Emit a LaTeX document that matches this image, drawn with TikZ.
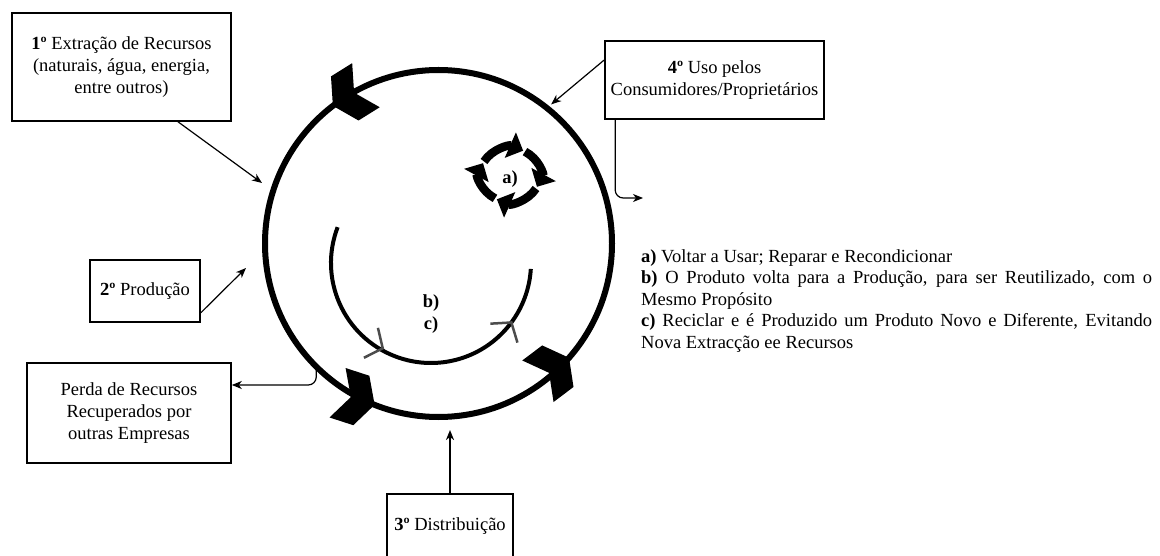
\documentclass[tikz,border=0pt]{standalone}
\usepackage{fontspec}
\setmainfont{Liberation Serif}
\usetikzlibrary{arrows.meta}
\usetikzlibrary{positioning}
\usetikzlibrary{calc}

\begin{document}
\begin{tikzpicture}[x=1pt, y=1pt, every node/.style={font=\fontsize{18.5}{21.6}\selectfont},
    box/.style={draw, line width=1.6pt, inner sep=0pt, align=center},
    conn/.style={line width=1.2pt, -{Stealth[length=10pt, width=8pt, inset=3pt]}},
    ring/.style={line width=6pt},
    innerarc/.style={line width=4pt},
    cyc/.style={line width=8.5pt, -{Triangle[length=14pt, width=27pt]}},
    chev/.pic={\fill (0,0) -- (-14,26) -- (-39,26) -- (-25,0) -- (-39,-26) -- (-14,-26) -- cycle;},
    barbmark/.pic={\draw[black!70, line width=2.5pt] (-13,16.5) -- (0,0) -- (-13,-16.5);}]
        \useasboundingbox (0,0) rectangle (1160,555);
        % Define the radius of the ring and of the inner arc
        \def\radius{173.5}
        \def\rin{100}
        \coordinate (c) at (438.5,311.5);
        \coordinate (ci) at (431,292);

        % Draw the ring and the inner arc
        \draw[ring] (c) circle[radius=\radius];
        \draw[innerarc] ($(ci)+(159:\rin)$) arc[start angle=159, end angle=356.6, radius=\rin];

        % Big heads on the ring
        \path ($(c)+(127.5:\radius)$) pic[rotate=212] {chev};
        \path ($(c)+(248.4:\radius)$) pic[rotate=342] {chev};
        \path ($(c)+(318.8:\radius)$) pic[rotate=37] {chev};

        % Grey heads on the inner arc
        \path ($(ci)+(240.5:98)$) pic[rotate=-25] {barbmark};
        \path ($(ci)+(323.5:\rin)$) pic[rotate=55] {barbmark};

        % Small cycle of a)
        \coordinate (ic) at (510,380);
        \foreach \s in {150,60,-30,-120}
        {
          \draw[cyc] ($(ic)+(\s:30 and 27)$) arc[start angle=\s, delta angle=-86, x radius=30, y radius=27];
        }

        \node (la) at (510,376) {\textbf{a)}};
        \node (lb) at (431,252) {\textbf{b)}};
        \node (lc) at (431,230) {\textbf{c)}};

        % Draw the boxes
        \node[box, minimum width=219pt, minimum height=108pt] (b1) at (121.5,488) {\textbf{1º} Extração de Recursos\\(naturais, água, energia,\\entre outros)};
        \node[box, minimum width=219pt, minimum height=78pt] (b4) at (714.5,475) {\textbf{4º} Uso pelos\\Consumidores/Proprietários};
        \node[box, minimum width=110pt, minimum height=62pt] (b2) at (145,264) {\textbf{2º} Produção};
        \node[box, minimum width=204pt, minimum height=100pt] (bp) at (129,142) {Perda de Recursos\\Recuperados por\\outras Empresas};
        \node[box, minimum width=126pt, minimum height=64pt] (b3) at (450,29) {\textbf{3º} Distribuição};

        % Connectors
        \coordinate (t1) at (262,372);
        \coordinate (t2) at (246,287);
        \coordinate (t3) at (450,125);
        \coordinate (t4) at ($(c)+(51:179)$);
        \coordinate (t4b) at (643,357);
        \coordinate (tp) at ($(c)+(225.2:\radius)$);

        \draw[conn] ([xshift=56.5pt]b1.south) -- (t1);
        \draw[conn] ([yshift=10pt]b2.south east) -- (t2);
        \draw[conn, line width=2pt] (b3.north) -- (t3);
        \draw[conn] ([yshift=20pt]b4.west) -- (t4);
        \draw[conn, rounded corners=8pt] ([xshift=11pt]b4.south west) |- (t4b);
        \draw[conn, rounded corners=8pt] (tp) |- ([yshift=28pt]bp.east);

        % Legend
        \node[anchor=north west, text width=511pt, align=justify, inner sep=0pt] (leg) at (641,306)
          {\hyphenpenalty=10000 \exhyphenpenalty=10000 \parindent=0pt
           \textbf{a)} Voltar a Usar; Reparar e Recondicionar\par
           \textbf{b)} O Produto volta para a Produção, para ser Reutilizado, com o Mesmo Propósito\par
           \textbf{c)} Reciclar e é Produzido um Produto Novo e Diferente, Evitando Nova Extracção ee Recursos};
      \end{tikzpicture}
\end{document}
